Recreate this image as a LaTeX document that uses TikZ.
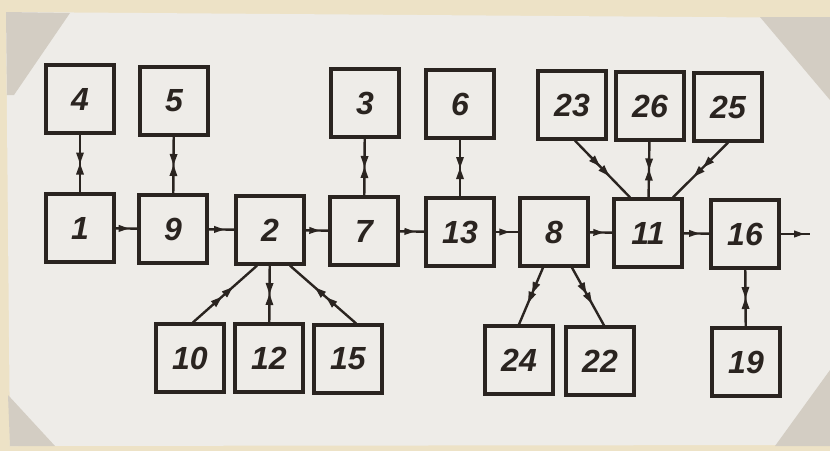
\documentclass[tikz,border=0pt]{standalone}
\usepackage{fontspec}
\setmainfont{Liberation Sans}
\usetikzlibrary{decorations.markings}
\definecolor{ink}{HTML}{2A2420}
\definecolor{paper}{HTML}{EEECE8}
\definecolor{edge}{HTML}{EDE2C6}
\definecolor{corner}{HTML}{D3CDC3}
\begin{document}
\begin{tikzpicture}[x=1pt,y=-1pt,
  box/.style={draw=ink,line width=3.3pt,minimum width=68pt,minimum height=68pt,inner sep=0pt,
    text=ink,font=\fontsize{32}{32}\selectfont\itshape\bfseries},
  conn/.style={draw=ink,line width=2.4pt},
  midarrow/.style={conn,postaction={decorate},decoration={markings,
    mark=at position 0.6 with {\fill[ink] (-10pt,-3.6pt)--(0pt,0pt)--(-10pt,3.6pt)--cycle;}}},
  hourglass/.style={conn,postaction={decorate},decoration={markings,
    mark=at position 0.5 with {\fill[ink] (-11pt,-4pt)--(0pt,0pt)--(-11pt,4pt)--cycle;
      \fill[ink] (11pt,-4pt)--(0pt,0pt)--(11pt,4pt)--cycle;}}},
  doublearrow/.style={conn,postaction={decorate},decoration={markings,
    mark=at position 0.45 with {\fill[ink] (-11pt,-4pt)--(0pt,0pt)--(-11pt,4pt)--cycle;},
    mark=at position 0.62 with {\fill[ink] (-11pt,-4pt)--(0pt,0pt)--(-11pt,4pt)--cycle;}}}]
% background
\fill[edge] (0,0) rectangle (830,451);
\fill[paper] (6,12) -- (830,18) -- (830,445) -- (10,446) -- cycle;
\fill[corner] (6,12) -- (70,13) -- (14,95) -- (7,95) -- cycle;
\fill[corner] (760,17) -- (830,17) -- (830,100) -- cycle;
\fill[corner] (8,395) -- (55,446) -- (10,446) -- cycle;
\fill[corner] (830,370) -- (830,446) -- (775,446) -- cycle;
\useasboundingbox (0,0) rectangle (830,451);
% boxes
\node[box] (n4)  at (80,99)  {4};
\node[box] (n5)  at (174,101) {5};
\node[box] (n1)  at (80,228) {1};
\node[box] (n9)  at (173,229) {9};
\node[box] (n2)  at (270,230) {2};
\node[box] (n7)  at (364,231) {7};
\node[box] (n13) at (460,232) {13};
\node[box] (n3)  at (365,103) {3};
\node[box] (n6)  at (460,104) {6};
\node[box] (n8)  at (554,232) {8};
\node[box] (n11) at (648,233) {11};
\node[box] (n16) at (745,234) {16};
\node[box] (n23) at (572,105) {23};
\node[box] (n26) at (650,106) {26};
\node[box] (n25) at (728,107) {25};
\node[box] (n10) at (190,358) {10};
\node[box] (n12) at (269,358) {12};
\node[box] (n15) at (348,359) {15};
\node[box] (n24) at (519,360) {24};
\node[box] (n22) at (600,361) {22};
\node[box] (n19) at (746,362) {19};
\coordinate (out) at (810,234);
% main chain
\draw[midarrow] (n1) -- (n9);
\draw[midarrow] (n9) -- (n2);
\draw[midarrow] (n2) -- (n7);
\draw[midarrow] (n7) -- (n13);
\draw[midarrow] (n13) -- (n8);
\draw[midarrow] (n8) -- (n11);
\draw[midarrow] (n11) -- (n16);
\draw[conn,postaction={decorate},decoration={markings,
    mark=at position 0.8 with {\fill[ink] (-10pt,-3.6pt)--(0pt,0pt)--(-10pt,3.6pt)--cycle;}}] (n16) -- (out);
% vertical links
\draw[hourglass] (n4) -- (n1);
\draw[hourglass] (n5) -- (n9);
\draw[hourglass] (n3) -- (n7);
\draw[hourglass] (n6) -- (n13);
\draw[hourglass] (n26) -- (n11);
\draw[hourglass] (n16) -- (n19);
\draw[hourglass] (n12) -- (n2);
% diagonal links
\draw[doublearrow] ([xshift=3pt]n10.north) -- ([xshift=-13pt]n2.south);
\draw[doublearrow] ([xshift=8pt]n15.north) -- ([xshift=20pt]n2.south);
\draw[doublearrow] ([xshift=3pt]n23.south) -- ([xshift=-18pt]n11.north);
\draw[doublearrow] (n25.south) -- ([xshift=25pt]n11.north);
\draw[doublearrow] ([xshift=-11pt]n8.south) -- (n24.north);
\draw[doublearrow] ([xshift=18pt]n8.south) -- ([xshift=4pt]n22.north);
\end{tikzpicture}
\end{document}
